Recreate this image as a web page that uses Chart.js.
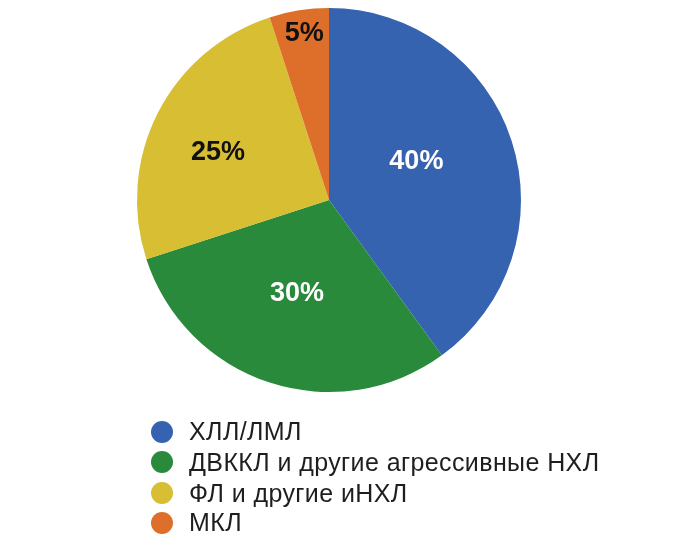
<!DOCTYPE html>
<html>
<head>
<meta charset="utf-8">
<script src="https://cdn.jsdelivr.net/npm/chart.js@4"></script>
<style>
  html, body { margin: 0; padding: 0; background: #ffffff; }
  #wrap { position: relative; width: 692px; height: 548px; }
  #c { position: absolute; left: 0; top: 0; }
  #legend { position: absolute; left: 0; top: 0; width: 692px; height: 548px; pointer-events: none;
            font-family: "Liberation Sans", Arial, sans-serif; font-size: 25px; letter-spacing: 0.4px; color: #1e1e1e; }
  .item { position: absolute; left: 151px; height: 30px; display: flex; align-items: center; white-space: nowrap; }
  .dot { width: 22px; height: 22px; border-radius: 50%; margin-right: 16px; }
</style>
</head>
<body>
<div id="wrap">
  <canvas id="c" width="692" height="548"></canvas>
  <div id="legend"></div>
</div>
<script>
const categories = ["ХЛЛ/ЛМЛ", "ДВККЛ и другие агрессивные НХЛ", "ФЛ и другие иНХЛ", "МКЛ"];
const shares = [40, 30, 25, 5];
const valueLabels = ["40%", "30%", "25%", "5%"];
const sliceColors = ["#3663B0", "#2A8A3B", "#D8BE33", "#DE6F2A"];
const labelColors = ["#ffffff", "#ffffff", "#111111", "#111111"];

// label placement inside each slice: fraction along the arc angle, fraction of radius
const labelAngleFrac = [0.455, 0.51, 0.46, 0.53];
const labelRadiusFrac = [0.50, 0.51, 0.63, 0.88];

const sliceLabels = {
  id: "sliceLabels",
  afterDatasetsDraw(chart) {
    const ctx = chart.ctx;
    const meta = chart.getDatasetMeta(0);
    ctx.save();
    ctx.font = "bold 27px 'Liberation Sans', Arial, sans-serif";
    ctx.textAlign = "center";
    ctx.textBaseline = "middle";
    meta.data.forEach((arc, i) => {
      const p = arc.getProps(["x", "y", "startAngle", "endAngle", "outerRadius"], true);
      const a = p.startAngle + (p.endAngle - p.startAngle) * labelAngleFrac[i];
      const r = p.outerRadius * labelRadiusFrac[i];
      ctx.fillStyle = labelColors[i];
      ctx.fillText(valueLabels[i], p.x + Math.cos(a) * r, p.y + Math.sin(a) * r + 1);
    });
    ctx.restore();
  }
};

new Chart(document.getElementById("c"), {
  type: "pie",
  data: {
    labels: categories,
    datasets: [{
      data: shares,
      backgroundColor: sliceColors,
      borderWidth: 0
    }]
  },
  options: {
    responsive: false,
    animation: false,
    layout: { padding: { top: 8, bottom: 156, left: 137, right: 171 } },
    plugins: {
      legend: { display: false },
      tooltip: { enabled: false }
    }
  },
  plugins: [sliceLabels]
});

const legend = document.getElementById("legend");
const rowTops = [416.5, 447, 478, 507.5];
categories.forEach((name, i) => {
  const row = document.createElement("div");
  row.className = "item";
  row.style.top = rowTops[i] + "px";
  const dot = document.createElement("div");
  dot.className = "dot";
  dot.style.background = sliceColors[i];
  const txt = document.createElement("span");
  txt.textContent = name;
  row.appendChild(dot);
  row.appendChild(txt);
  legend.appendChild(row);
});
</script>
</body>
</html>
